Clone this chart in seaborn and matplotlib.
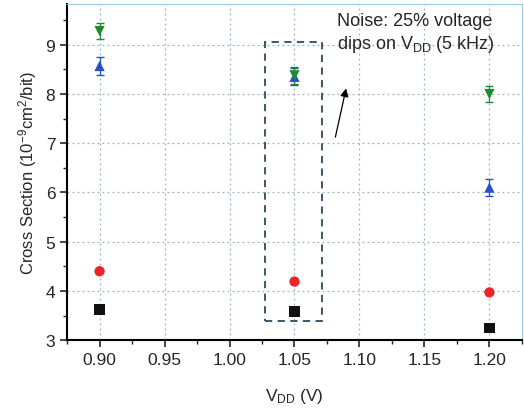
import numpy as np
import pandas as pd
import matplotlib
matplotlib.use("Agg")
import matplotlib.pyplot as plt
import seaborn as sns

# values
vdd = [0.90, 1.05, 1.20]
series_names = ["black", "red", "blue", "green"]
black_vals = [3.62, 3.58, 3.24]
red_vals = [4.40, 4.19, 3.97]
blue_vals = [8.57, 8.35, 6.10]
green_vals = [9.28, 8.38, 8.00]
blue_err = [0.18, 0.17, 0.18]
green_err = [0.16, 0.17, 0.16]
x_ticks = [0.90, 0.95, 1.00, 1.05, 1.10, 1.15, 1.20]
y_ticks = [3, 4, 5, 6, 7, 8, 9]

df = pd.DataFrame({
    "vdd": vdd * 4,
    "cs": black_vals + red_vals + blue_vals + green_vals,
    "series": [s for s in series_names for _ in vdd],
})

sns.set_style("white")
plt.rcParams['font.family'] = ['Liberation Sans', 'DejaVu Sans']
plt.rcParams['mathtext.fontset'] = 'custom'
plt.rcParams['mathtext.rm'] = 'Liberation Sans'
plt.rcParams['mathtext.it'] = 'Liberation Sans'

fig = plt.figure(figsize=(5.24, 4.14), dpi=100)
ax = fig.add_axes([0.128, 0.176, 0.868, 0.812])

palette = {"black": "#111111", "red": "#e8262a", "blue": "#2a4fc0", "green": "#1f8a2e"}
markers = {"black": "s", "red": "o", "blue": "^", "green": "v"}

ax.errorbar(vdd, blue_vals, yerr=blue_err, fmt="none", ecolor=palette["blue"],
            elinewidth=0.9, capsize=3, zorder=2)
ax.errorbar(vdd, green_vals, yerr=green_err, fmt="none", ecolor=palette["green"],
            elinewidth=0.9, capsize=3, zorder=2)

sns.scatterplot(data=df, x="vdd", y="cs", hue="series", style="series",
                palette=palette, markers=markers, s=55, edgecolor="none",
                legend=False, ax=ax, zorder=3)

ax.set_xlim(0.8755, 1.2245)
ax.set_ylim(3, 9.83)
ax.set_xticks(x_ticks)
ax.set_xticklabels([f"{t:.2f}" for t in x_ticks])
ax.set_yticks(y_ticks)
ax.set_xticks(np.arange(0.875, 1.225, 0.025), minor=True)
ax.set_yticks(np.arange(3.5, 9.6, 1.0), minor=True)
ax.tick_params(axis="both", which="major", direction="out", length=5, width=1.2,
               labelsize=12.5, left=True, bottom=True)
ax.tick_params(axis="both", which="minor", direction="out", length=3, width=1.0,
               left=True, bottom=True)

ax.grid(True, which="major", linestyle=(0, (1.5, 2.5)), color="#98b4c4", linewidth=0.9)
for side in ["left", "bottom"]:
    ax.spines[side].set_color("black")
    ax.spines[side].set_linewidth(1.5)
for side in ["top", "right"]:
    ax.spines[side].set_color("#9cc8e0")
    ax.spines[side].set_linewidth(0.8)

ax.set_xlabel("V$_{\\mathregular{DD}}$ (V)", fontsize=12.5, labelpad=14)
ax.set_ylabel("Cross Section (10$^{\\mathregular{-9}}$cm$^{\\mathregular{2}}$/bit)",
              fontsize=12, labelpad=5)

# dashed box around the noisy point
rect = plt.Rectangle((1.0273, 3.38), 1.071 - 1.0273, 9.06 - 3.38, fill=False,
                     edgecolor="#2c4a5c", linestyle=(0, (4, 3)), linewidth=1.3, zorder=4)
ax.add_patch(rect)

ax.annotate("", xy=(1.0902, 8.17), xytext=(1.0810, 7.07),
            arrowprops=dict(arrowstyle="-|>", color="black", lw=0.9, mutation_scale=12))
ax.text(1.0825, 9.66, "Noise: 25% voltage\ndips on V$_{\\mathregular{DD}}$ (5 kHz)",
        fontsize=13, va="top", ha="left", linespacing=1.25)

fig.savefig("out.png", dpi=100)
